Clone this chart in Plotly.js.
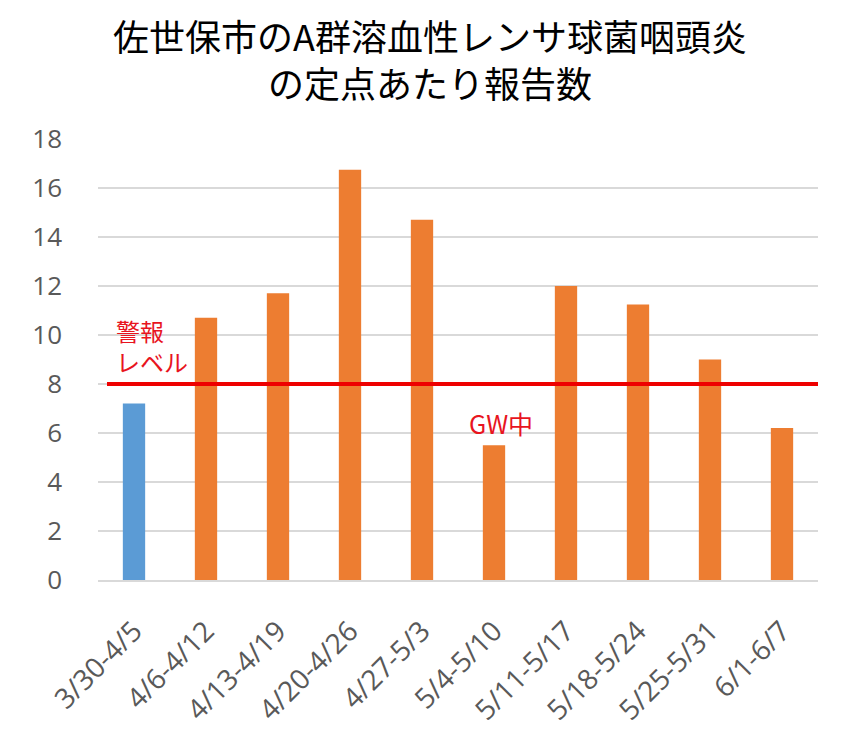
<!DOCTYPE html>
<html>
<head>
<meta charset="utf-8">
<script src="https://cdn.plot.ly/plotly-3.0.1.min.js"></script>
<style>
html,body{margin:0;padding:0;background:#fff;}
#chart{width:860px;height:729px;}
</style>
</head>
<body>
<div id="chart"></div>
<script>
// Data
const weeks = ["3/30-4/5","4/6-4/12","4/13-4/19","4/20-4/26","4/27-5/3","5/4-5/10","5/11-5/17","5/18-5/24","5/25-5/31","6/1-6/7"];
const reports = [7.2, 10.7, 11.7, 16.75, 14.7, 5.5, 12.0, 11.25, 9.0, 6.2];
const alertLevel = 8;
const yTicks = [0, 2, 4, 6, 8, 10, 12, 14, 16, 18];

const barColors = weeks.map((w, i) => i === 0 ? "#5B9BD5" : "#ED7D31");

const trace = {
  type: "bar",
  x: weeks,
  y: reports,
  width: 0.31,
  marker: {color: barColors},
  hoverinfo: "x+y"
};

const layout = {
  width: 860,
  height: 729,
  margin: {l: 98, r: 42, t: 139, b: 149},
  paper_bgcolor: "#ffffff",
  plot_bgcolor: "#ffffff",
  showlegend: false,
  font: {family: "'Noto Sans CJK JP', 'Noto Sans', sans-serif", color: "#595959"},
  title: {
    text: "佐世保市のA群溶血性レンサ球菌咽頭炎<br>の定点あたり報告数",
    font: {size: 36, color: "#000000", family: "'Noto Sans CJK JP', sans-serif"},
    x: 0.5, xref: "container",
    y: 0.93, yref: "container", yanchor: "top"
  },
  xaxis: {
    type: "category",
    tickangle: -45,
    tickfont: {size: 28, color: "#595959", family: "'Open Sans', 'Noto Sans', sans-serif"},
    showgrid: false,
    showline: true,
    linecolor: "#d9d9d9",
    linewidth: 1.5,
    ticks: "",
    ticklabelstandoff: 22,
    range: [-0.5, 9.5]
  },
  yaxis: {
    range: [0, 18],
    tickvals: yTicks,
    ticktext: yTicks.map(String),
    tickfont: {size: 26, color: "#595959", family: "'Open Sans', 'Noto Sans', sans-serif"},
    showgrid: true,
    gridcolor: "#d9d9d9",
    gridwidth: 1.5,
    zeroline: false,
    showline: false,
    ticks: "",
    ticklabelstandoff: 35
  },
  shapes: [{
    type: "line",
    xref: "x", yref: "y",
    x0: -0.375, x1: 9.65,
    y0: alertLevel, y1: alertLevel,
    line: {color: "#ee0000", width: 4}
  }],
  annotations: [
    {
      text: "警報<br>レベル",
      xref: "paper", yref: "y",
      x: 0.022, y: 9.55,
      xanchor: "left", yanchor: "middle",
      align: "left",
      showarrow: false,
      font: {size: 24, color: "#e8141e", family: "'Noto Sans CJK JP', sans-serif"}
    },
    {
      text: "GW中",
      xref: "x", yref: "y",
      x: 5.1, y: 6.4,
      xanchor: "center", yanchor: "middle",
      showarrow: false,
      font: {size: 25, color: "#e8141e", family: "'Noto Sans CJK JP', sans-serif"}
    }
  ]
};

Plotly.newPlot("chart", [trace], layout, {displayModeBar: false, staticPlot: true});
</script>
</body>
</html>
